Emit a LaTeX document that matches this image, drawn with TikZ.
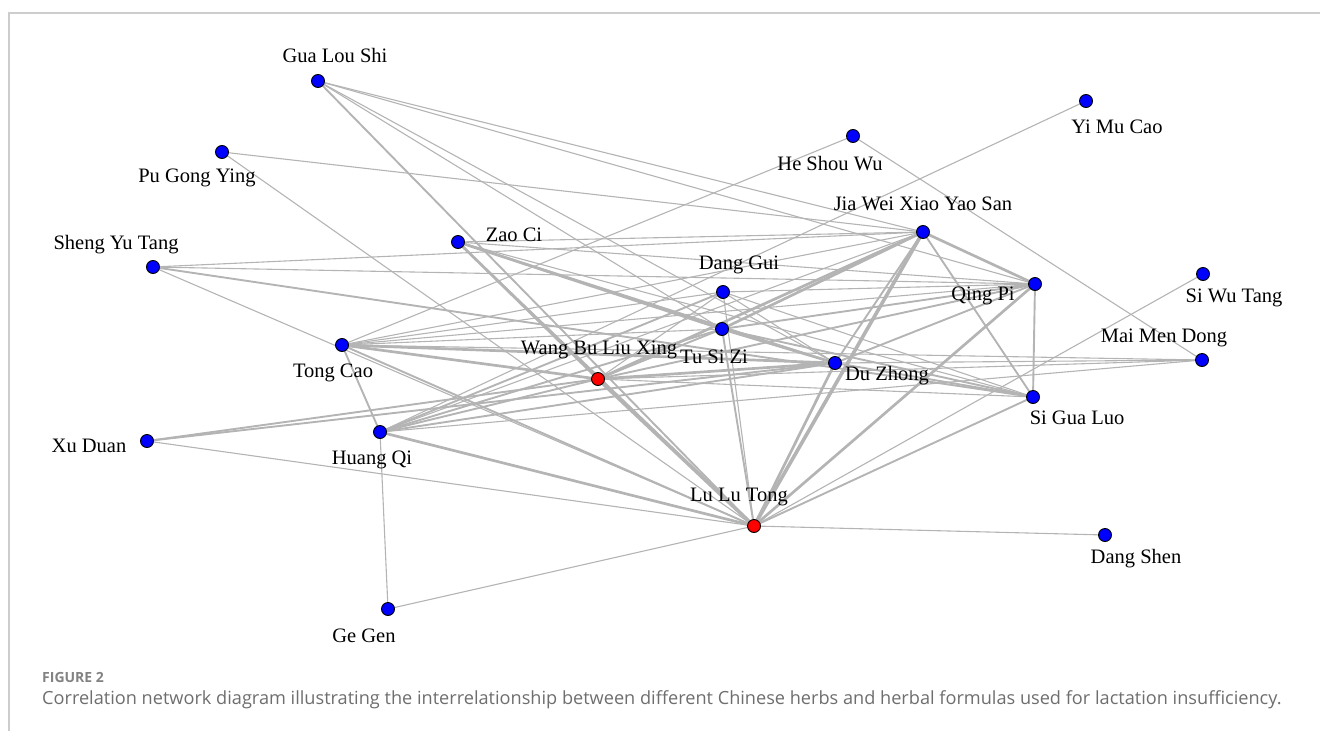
\documentclass[tikz,border=0pt]{standalone}
\usepackage{fontspec}
\setmainfont{Liberation Serif}
\newfontfamily\capfont{Open Sans}
\pgfdeclarelayer{bg}
\pgfsetlayers{bg,main}
\definecolor{edgegray}{RGB}{180,180,180}
\definecolor{framegray}{RGB}{205,205,205}
\definecolor{capgray}{RGB}{110,110,110}
\definecolor{figgray}{RGB}{130,130,130}
\begin{document}
\begin{tikzpicture}[x=1pt,y=-1pt,
  dot/.style={circle,draw=black,line width=0.9pt,fill=blue,minimum size=13pt,inner sep=0pt},
  hub/.style={dot,fill=red},
  lbl/.style={font=\fontsize{20.5}{24}\selectfont,inner sep=0pt,text=black},
  ea/.style={draw=edgegray,line width=1.1pt},
  eb/.style={draw=edgegray,line width=1.9pt},
  ec/.style={draw=edgegray,line width=2.7pt},
  ed/.style={draw=edgegray,line width=3.6pt},
  frame/.style={draw=framegray,line width=1.5pt}]
\useasboundingbox (0,0) rectangle (1320,731);
\draw[frame] (9,731) -- (9,13) -- (1320,13);

% nodes
\node[dot] (gls) at (318,81) {};
\node[dot] (pgy) at (222,152) {};
\node[dot] (syt) at (153,267) {};
\node[dot] (zc)  at (458,242) {};
\node[dot] (hsw) at (853,136) {};
\node[dot] (ymc) at (1086,101) {};
\node[dot] (jw)  at (923,232) {};
\node[dot] (dg)  at (723,292) {};
\node[dot] (qp)  at (1035,284) {};
\node[dot] (swt) at (1203,274) {};
\node[dot] (tsz) at (722,329) {};
\node[dot] (tc)  at (342,345) {};
\node[hub] (wb)  at (598,379) {};
\node[dot] (dz)  at (835,363) {};
\node[dot] (mmd) at (1202,360) {};
\node[dot] (sgl) at (1033,397) {};
\node[dot] (xd)  at (147,441) {};
\node[dot] (hq)  at (380,432) {};
\node[hub] (llt) at (754,526) {};
\node[dot] (ds)  at (1105,535) {};
\node[dot] (gg)  at (388,609) {};

% labels
\node[lbl] (gls-l) at (335,55) {Gua Lou Shi};
\node[lbl] (pgy-l) at (197,178) {Pu Gong Ying};
\node[lbl] (syt-l) at (116,245) {Sheng Yu Tang};
\node[lbl] (zc-l)  at (514,235) {Zao Ci};
\node[lbl] (hsw-l) at (830,164) {He Shou Wu};
\node[lbl] (ymc-l) at (1117,127) {Yi Mu Cao};
\node[lbl] (jw-l)  at (923,204) {Jia Wei Xiao Yao San};
\node[lbl] (dg-l)  at (739,265) {Dang Gui};
\node[lbl] (qp-l)  at (983,296) {Qing Pi};
\node[lbl] (swt-l) at (1234,298) {Si Wu Tang};
\node[lbl] (tsz-l) at (714,357) {Tu Si Zi};
\node[lbl] (wb-l)  at (599,350) {Wang Bu Liu Xing};
\node[lbl] (tc-l)  at (333,373) {Tong Cao};
\node[lbl] (dz-l)  at (887,376) {Du Zhong};
\node[lbl] (mmd-l) at (1164,338) {Mai Men Dong};
\node[lbl] (sgl-l) at (1077,418) {Si Gua Luo};
\node[lbl] (xd-l)  at (89,446) {Xu Duan};
\node[lbl] (hq-l)  at (372,460) {Huang Qi};
\node[lbl] (llt-l) at (739,497) {Lu Lu Tong};
\node[lbl] (ds-l)  at (1136,559) {Dang Shen};
\node[lbl] (gg-l)  at (364,636) {Ge Gen};

% caption
\node[anchor=west,inner sep=0pt,font=\capfont\bfseries\fontsize{14}{16}\selectfont,text=figgray] (cap1) at (42,677) {FIGURE 2};
\node[anchor=west,inner sep=0pt,font=\capfont\fontsize{18.15}{21}\selectfont,text=capgray] (cap2) at (42,700) {Correlation network diagram illustrating the interrelationship between different Chinese herbs and herbal formulas used for lactation insufficiency.};

\begin{pgfonlayer}{bg}
\draw[ea] (gls.center) -- (jw.center);
\draw[ea] (gls.center) -- (qp.center);
\draw[ea] (gls.center) -- (dz.center);
\draw[ea] (gls.center) -- (tsz.center);
\draw[eb] (gls.center) -- (llt.center);
\draw[ea] (pgy.center) -- (jw.center);
\draw[ea] (pgy.center) -- (llt.center);
\draw[ea] (syt.center) -- (jw.center);
\draw[ea] (syt.center) -- (qp.center);
\draw[eb] (syt.center) -- (sgl.center);
\draw[ea] (syt.center) -- (llt.center);
\draw[ea] (zc.center) -- (jw.center);
\draw[ea] (zc.center) -- (qp.center);
\draw[ec] (zc.center) -- (tsz.center);
\draw[eb] (zc.center) -- (dz.center);
\draw[ea] (zc.center) -- (sgl.center);
\draw[ec] (zc.center) -- (wb.center);
\draw[eb] (zc.center) -- (llt.center);
\draw[ea] (hsw.center) -- (tc.center);
\draw[ea] (hsw.center) -- (mmd.center);
\draw[ea] (ymc.center) -- (hq.center);
\draw[ea] (swt.center) -- (llt.center);
\draw[ea] (ds.center) -- (llt.center);
\draw[ea] (gg.center) -- (llt.center);
\draw[ea] (gg.center) -- (hq.center);
\draw[ea] (xd.center) -- (llt.center);
\draw[eb] (xd.center) -- (wb.center);
\draw[eb] (xd.center) -- (dz.center);
\draw[eb] (tc.center) -- (hq.center);
\draw[ea] (tc.center) -- (jw.center);
\draw[ea] (tc.center) -- (dg.center);
\draw[ea] (tc.center) -- (tsz.center);
\draw[ea] (tc.center) -- (qp.center);
\draw[ec] (tc.center) -- (dz.center);
\draw[ec] (tc.center) -- (wb.center);
\draw[eb] (tc.center) -- (llt.center);
\draw[ea] (tc.center) -- (mmd.center);
\draw[ec] (hq.center) -- (llt.center);
\draw[eb] (hq.center) -- (dg.center);
\draw[eb] (hq.center) -- (tsz.center);
\draw[eb] (hq.center) -- (wb.center);
\draw[eb] (hq.center) -- (dz.center);
\draw[ea] (hq.center) -- (mmd.center);
\draw[ea] (hq.center) -- (jw.center);
\draw[ed] (wb.center) -- (llt.center);
\draw[ec] (wb.center) -- (jw.center);
\draw[eb] (wb.center) -- (tsz.center);
\draw[ea] (wb.center) -- (dg.center);
\draw[ec] (wb.center) -- (dz.center);
\draw[eb] (wb.center) -- (qp.center);
\draw[ea] (wb.center) -- (sgl.center);
\draw[ea] (wb.center) -- (mmd.center);
\draw[ea] (dg.center) -- (llt.center);
\draw[ea] (dg.center) -- (dz.center);
\draw[ea] (dg.center) -- (sgl.center);
\draw[ea] (dg.center) -- (qp.center);
\draw[eb] (tsz.center) -- (llt.center);
\draw[ec] (tsz.center) -- (jw.center);
\draw[eb] (tsz.center) -- (qp.center);
\draw[ec] (tsz.center) -- (dz.center);
\draw[eb] (tsz.center) -- (sgl.center);
\draw[ec] (jw.center) -- (qp.center);
\draw[eb] (jw.center) -- (sgl.center);
\draw[ed] (jw.center) -- (llt.center);
\draw[eb] (jw.center) -- (dz.center);
\draw[ec] (dz.center) -- (llt.center);
\draw[eb] (dz.center) -- (qp.center);
\draw[eb] (dz.center) -- (sgl.center);
\draw[ea] (dz.center) -- (mmd.center);
\draw[eb] (qp.center) -- (sgl.center);
\draw[ec] (qp.center) -- (llt.center);
\draw[eb] (sgl.center) -- (llt.center);
\end{pgfonlayer}
\end{tikzpicture}
\end{document}
